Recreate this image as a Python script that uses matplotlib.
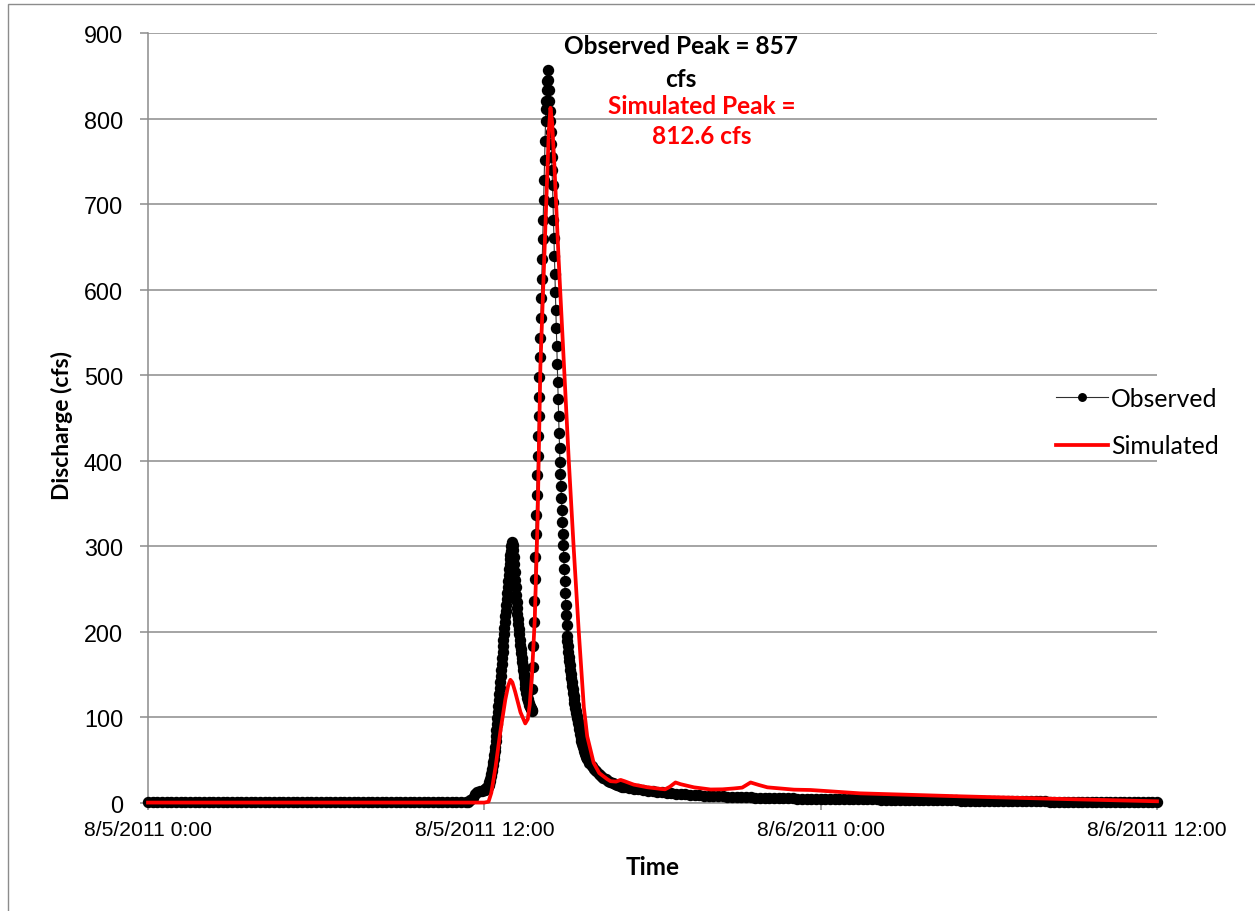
import matplotlib
matplotlib.use("Agg")
import matplotlib.pyplot as plt
import matplotlib.dates as mdates
from matplotlib.patches import Rectangle
from matplotlib.ticker import FuncFormatter, MultipleLocator
import numpy as np
import pandas as pd

START = pd.Timestamp("2011-08-05 00:00")
END = pd.Timestamp("2011-08-06 12:00")

# observed discharge (cfs); the logger interval changes during the storm
obs_night = [  # 00:00 - 11:20, every 10 min
    1.1, 1.1, 1.1, 1.1, 1.1, 1.1,
    1.1, 1.1, 1.1, 1.1, 1.1, 1.1,
    1.1, 1.1, 1.0, 1.0, 1.0, 1.0,
    1.0, 1.0, 1.0, 1.0, 1.0, 1.0,
    1.0, 1.0, 1.0, 1.0, 1.0, 1.0,
    1.0, 1.0, 1.0, 1.0, 1.0, 1.0,
    1.0, 1.0, 1.0, 1.0, 1.0, 1.0,
    1.0, 1.0, 1.0, 1.0, 1.0, 1.0,
    1.0, 1.0, 1.0, 1.0, 1.0, 1.0,
    1.0, 1.0, 1.0, 1.0, 1.0, 1.0,
    1.0, 1.0, 1.0, 1.0, 1.0, 1.0,
    1.0, 1.0, 1.2,
]
obs_prerise = [1.5, 3.0, 6.0, 10.0, 13.0, 14.0, 14.5]  # 11:25 - 11:55, every 5 min
obs_storm = [  # 12:00 - 15:40, every minute
    15, 15, 16, 16, 17, 17, 18, 19, 20, 21,
    22, 24, 26, 28, 31, 34, 37, 40, 44, 48,
    52, 56, 61, 66, 72, 78, 85, 92, 99, 106,
    113, 120, 127, 134, 141, 148, 155, 162, 169, 176,
    183, 190, 197, 204, 211, 218, 225, 232, 239, 246,
    253, 260, 267, 273, 279, 285, 290, 295, 300, 303,
    305, 302, 296, 288, 279, 270, 261, 252, 243, 235,
    228, 221, 215, 209, 203, 197, 191, 185, 180, 175,
    170, 165, 160, 155, 151, 147, 143, 139, 135, 132,
    129, 126, 123, 121, 119, 117, 115, 113, 112, 111,
    110, 109, 108, 133, 159, 184, 211, 236, 262, 287,
    314, 337, 360, 383, 406, 429, 452, 475, 498, 521,
    544, 567, 590, 613, 636, 659, 682, 705, 728, 751,
    774, 797, 811, 821, 833, 844, 857, 845, 833, 821,
    809, 797, 784, 770, 755, 740, 722, 702, 681, 660,
    639, 618, 597, 576, 555, 534, 513, 492, 472, 452,
    433, 415, 399, 385, 371, 357, 343, 329, 315, 301,
    287, 273, 259, 245, 232, 220, 208, 195, 189, 183,
    177, 171, 166, 161, 156, 151, 146, 141, 137, 133,
    129, 125, 121, 117, 114, 111, 108, 105, 102, 99,
    96, 93, 90, 87, 84, 81, 78, 76, 73, 71,
    69, 67, 65, 63, 61, 59, 57, 56, 54, 53,
    51,
]
obs_recess = [  # 15:45 - 17:00, every 5 min
    47, 43, 40, 37, 34, 31.5, 29.5, 27.5,
    26, 24.5, 23, 22, 21, 20, 19.2, 18.5,
]
obs_tail = [  # 17:10 - 36:00, every 10 min
    17.5, 16.6, 15.8, 15.0, 14.2, 13.5,
    13.0, 12.5, 12.0, 11.5, 11.0, 10.5,
    10.1, 9.7, 9.3, 9.0, 8.6, 8.3,
    8.1, 7.9, 7.7, 7.5, 7.3, 7.1,
    6.9, 6.8, 6.6, 6.4, 6.3, 6.1,
    6.0, 5.8, 5.7, 5.6, 5.4, 5.3,
    5.2, 5.1, 5.0, 5.0, 4.9, 4.8,
    4.7, 4.7, 4.6, 4.5, 4.5, 4.4,
    4.4, 4.3, 4.3, 4.2, 4.2, 4.1,
    4.0, 4.0, 3.9, 3.8, 3.8, 3.7,
    3.6, 3.6, 3.5, 3.4, 3.4, 3.3,
    3.2, 3.2, 3.1, 3.0, 3.0, 2.9,
    2.8, 2.8, 2.7, 2.6, 2.6, 2.5,
    2.4, 2.4, 2.3, 2.2, 2.2, 2.1,
    2.0, 2.0, 1.9, 1.9, 1.8, 1.8,
    1.7, 1.7, 1.6, 1.6, 1.5, 1.5,
    1.4, 1.4, 1.3, 1.3, 1.2, 1.2,
    1.1, 1.1, 1.0, 1.0, 0.9, 0.9,
    0.9, 0.8, 0.8, 0.8, 0.7, 0.7,
]

# simulated hydrograph (hours after 8/5/2011 0:00, cfs)
sim_hours = [0.0, 12.0, 12.15, 12.25, 12.4, 12.57, 12.75, 12.85, 12.93, 13.0,
             13.1, 13.29, 13.46, 13.55, 13.62, 13.7, 13.8, 13.9, 14.0, 14.18,
             14.3, 14.36, 14.42, 14.5, 14.65, 14.83, 15.01, 15.19, 15.37, 15.55,
             15.67, 15.9, 16.1, 16.38, 16.5, 16.7, 16.86, 17.0, 17.33, 17.8,
             18.29, 18.45, 18.62, 18.82, 19.0, 19.48, 20.07, 20.5, 20.9, 21.2,
             21.5, 21.8, 22.1, 23.05, 23.64, 25.4, 29.0, 32.6, 36.0]
sim_cfs = [0.5, 0.5, 1.5, 12, 42, 83, 121, 137, 144, 141,
           130, 106, 93, 98, 115, 150, 215, 330, 510, 675,
           785, 812.6, 795, 745, 636, 519, 402, 297, 200, 112,
           78, 47, 35, 28, 25.5, 25, 27, 25.5, 21.5, 18.5,
           16.5, 16, 19, 24, 22, 18.3, 15.8, 16, 17, 18,
           24, 21, 18.3, 15.6, 15.2, 11.3, 7.8, 4.7, 2.0]

obs_peak = 857
sim_peak = 812.6


def stamps(first, step, values):
    return pd.date_range(first, periods=len(values), freq=step)


obs_t = (stamps("2011-08-05 00:00", "10min", obs_night)
         .append(stamps("2011-08-05 11:25", "5min", obs_prerise))
         .append(stamps("2011-08-05 12:00", "1min", obs_storm))
         .append(stamps("2011-08-05 15:45", "5min", obs_recess))
         .append(stamps("2011-08-05 17:10", "10min", obs_tail)))
obs_q = np.concatenate([obs_night, obs_prerise, obs_storm, obs_recess, obs_tail])

sim_t = START + pd.to_timedelta(sim_hours, unit="h")
sim_q = np.array(sim_cfs)

GRID = "#8c8c8c"
TICK_FONT = "Liberation Sans"
TEXT_FONT = "Lato"

fig = plt.figure(figsize=(12.55, 9.12), dpi=100)
ax = fig.add_axes([148 / 1255, 1 - 804 / 912, 1009 / 1255, 770 / 912])

# chart area border (only its top and left edges fall inside the image)
fig.patches.append(Rectangle((8 / 1255, -0.1), 1.2, 1.1 - 5 / 912,
                             transform=fig.transFigure, fill=False,
                             edgecolor=GRID, linewidth=1.0))

ax.plot(obs_t, obs_q, color="#303030", linewidth=0.8, marker="o",
        markersize=7.2, markerfacecolor="black", markeredgecolor="black",
        clip_on=False, zorder=3, label="Observed")
ax.plot(sim_t, sim_q, color="#ff0000", linewidth=2.7, clip_on=False,
        zorder=4, label="Simulated")

ax.set_xlim(START, END)
ax.set_ylim(0, 900)
ax.yaxis.set_major_locator(MultipleLocator(100))
ax.xaxis.set_major_locator(mdates.HourLocator(byhour=[0, 12]))


def date_label(v, pos):
    d = mdates.num2date(v)
    return f"{d.month}/{d.day}/{d.year} {d.hour}:{d.minute:02d}"


ax.xaxis.set_major_formatter(FuncFormatter(date_label))

ax.grid(axis="y", color=GRID, linewidth=1.1)
ax.set_axisbelow(True)
for side in ("top", "right"):
    ax.spines[side].set_visible(False)
for side in ("left", "bottom"):
    ax.spines[side].set_color(GRID)
    ax.spines[side].set_linewidth(1.1)
ax.tick_params(axis="y", length=6, width=1.1, color=GRID, pad=12)
ax.tick_params(axis="x", length=5, width=1.1, color=GRID, pad=7.5)
for lab in ax.get_yticklabels():
    lab.set_fontfamily(TICK_FONT)
    lab.set_fontsize(16.8)
for lab in ax.get_xticklabels():
    lab.set_fontfamily(TICK_FONT)
    lab.set_fontsize(15.2)

ax.set_ylabel("Discharge (cfs)", fontfamily=TEXT_FONT, fontweight="bold",
              fontsize=16.5, labelpad=8)
ax.yaxis.label.set_y(0.491)
ax.set_xlabel("Time", fontfamily=TEXT_FONT, fontweight="bold",
              fontsize=17.5, labelpad=11)

ax.text(START + pd.Timedelta(hours=19.0), 866, f"Observed Peak = {obs_peak:g}\ncfs",
        ha="center", va="center", fontfamily=TEXT_FONT, fontweight="bold",
        fontsize=17.6, color="black", linespacing=1.5)
ax.text(START + pd.Timedelta(hours=19.75), 798, f"Simulated Peak =\n{sim_peak:g} cfs",
        ha="center", va="center", fontfamily=TEXT_FONT, fontweight="bold",
        fontsize=17.6, color="#ff0000", linespacing=1.35)

fig.legend(loc="center left", bbox_to_anchor=(1034 / 1255, 1 - 423 / 912),
           frameon=False, handlelength=2.1, handletextpad=0.1,
           labelspacing=1.0, markerscale=0.75,
           prop={"family": TEXT_FONT, "size": 17.8})

fig.savefig("out.png", dpi=100)
